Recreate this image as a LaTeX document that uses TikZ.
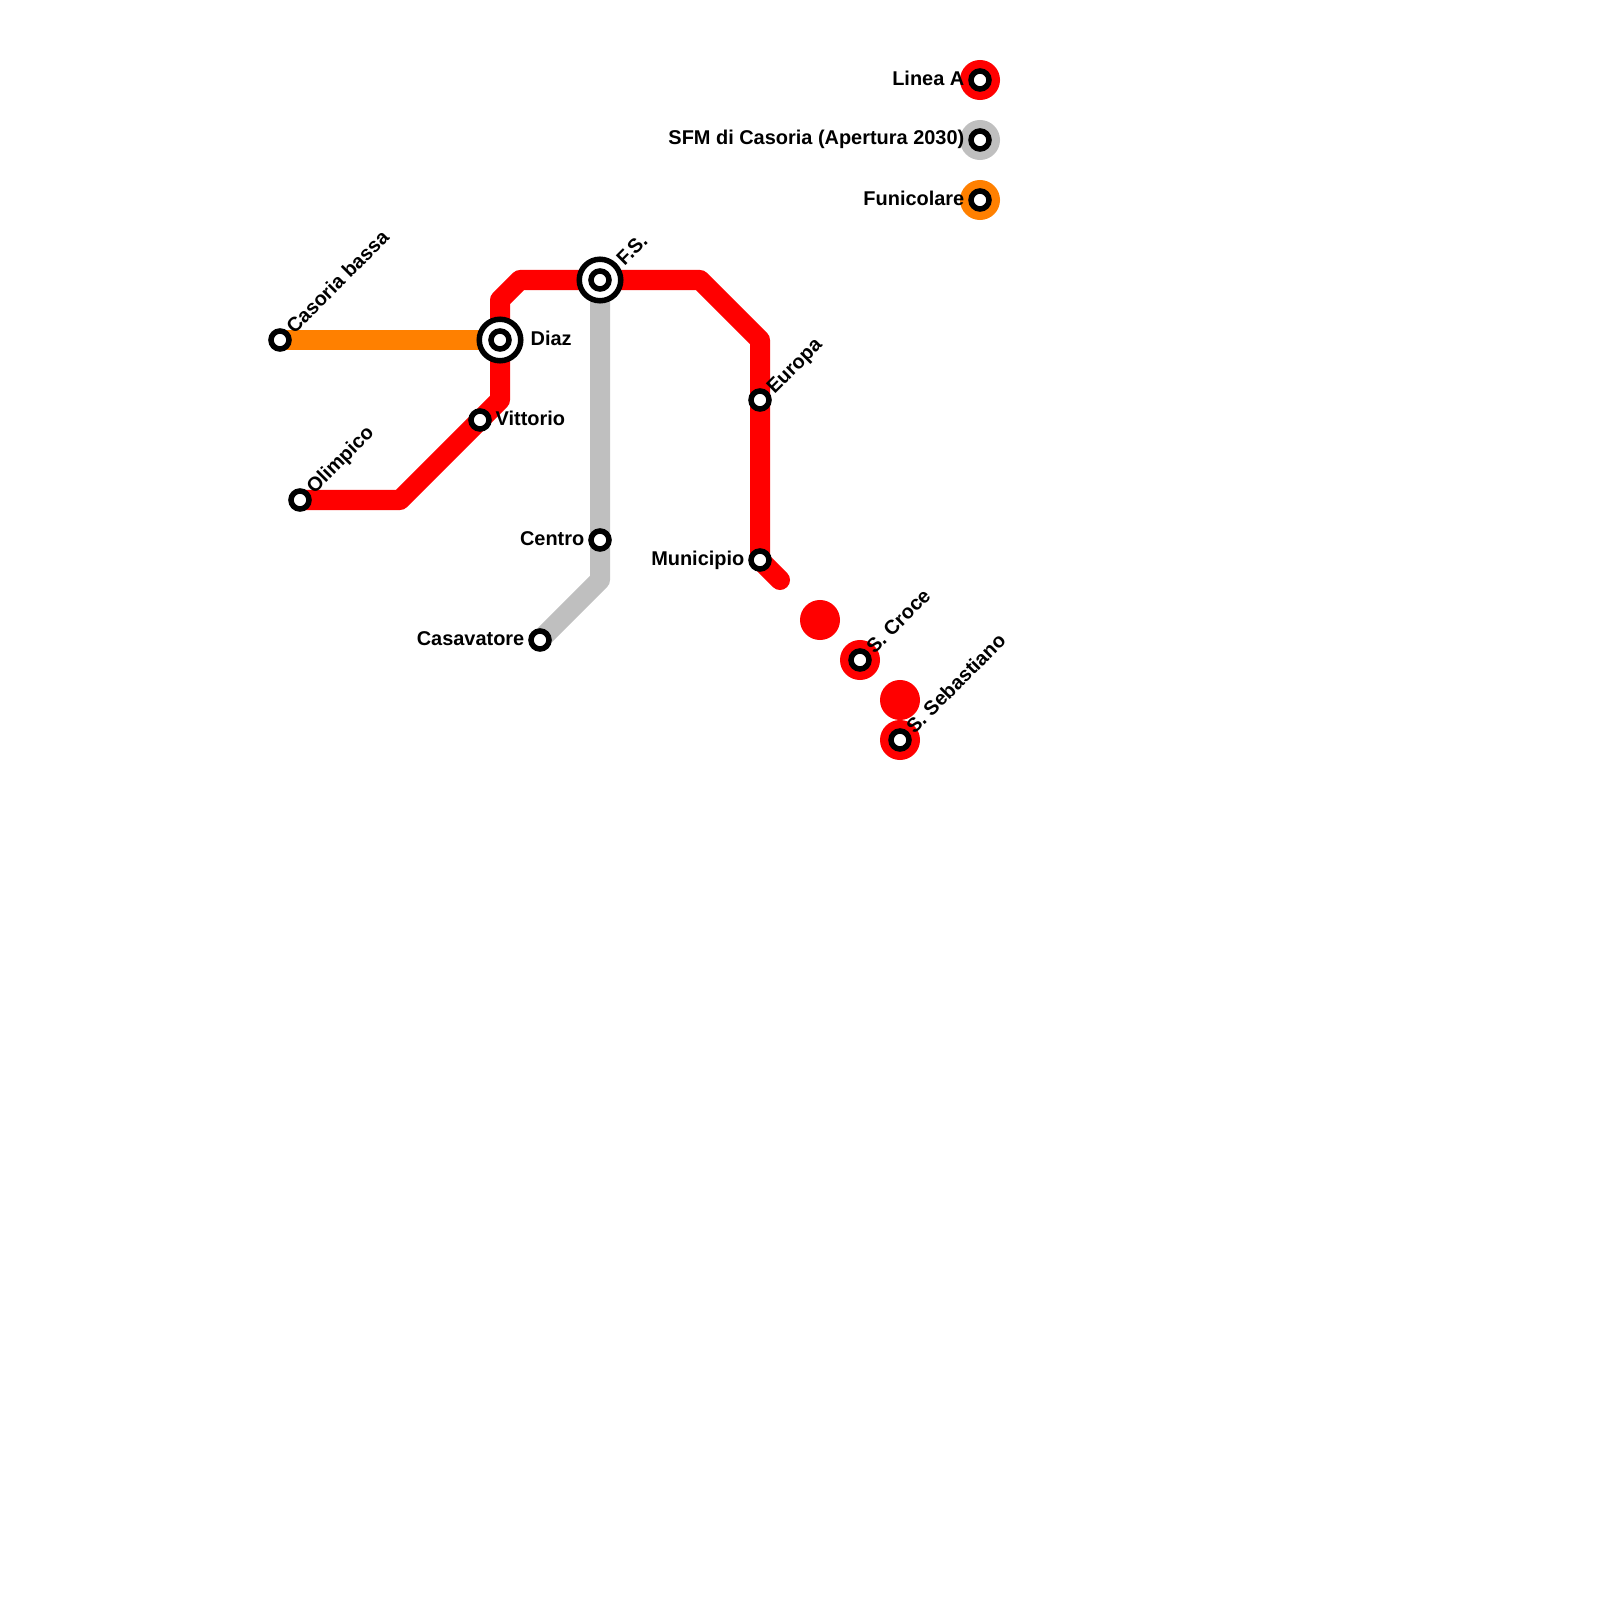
\documentclass[tikz,border=0pt]{standalone}
\usepackage{fontspec}
\setmainfont{Liberation Sans}
\usetikzlibrary{positioning,backgrounds}
\definecolor{lineared}{HTML}{FF0000}
\definecolor{linegrey}{HTML}{BFBFBF}
\definecolor{lineorange}{HTML}{FF8000}

\begin{document}
\begin{tikzpicture}[
  x=0.01cm, y=-0.01cm,
  stn/.style={draw=black, line width=0.055cm, circle, fill=white, inner sep=0pt, minimum size=0.18cm},
  hub/.style={draw=black, line width=0.055cm, circle, fill=white, inner sep=0pt, minimum size=0.415cm},
  disc/.style={circle, inner sep=0pt, minimum size=0.4cm},
  lbl/.style={font=\bfseries\fontsize{5.67pt}{7pt}\selectfont, inner sep=0pt},
  lblup/.style={lbl, rotate=45, anchor=base west},
  lblleft/.style={lbl, anchor=base east},
  lblright/.style={lbl, anchor=base west},
  track/.style={line width=0.2cm, line join=round, line cap=round}]
  \useasboundingbox (0,0) rectangle (1600,1600);
  \node[disc, fill=lineared] (d1) at (820,620) {};
  \node[disc, fill=lineared] (d2) at (860,660) {};
  \node[disc, fill=lineared] (d3) at (900,700) {};
  \node[disc, fill=lineared] (d4) at (900,740) {};
  \node[disc, fill=lineared] (legA) at (980,80) {};
  \node[disc, fill=linegrey] (legS) at (980,140) {};
  \node[disc, fill=lineorange] (legF) at (980,200) {};
  \node[hub] (fs0) at (600,280) {};
  \node[hub] (diaz0) at (500,340) {};
  \node[stn] (fs) at (600,280) {};
  \node[stn] (diaz) at (500,340) {};
  \node[stn] (casoria) at (280,340) {};
  \node[stn] (vittorio) at (480,420) {};
  \node[stn] (olimpico) at (300,500) {};
  \node[stn] (centro) at (600,540) {};
  \node[stn] (casavatore) at (540,640) {};
  \node[stn] (europa) at (760,400) {};
  \node[stn] (municipio) at (760,560) {};
  \node[stn] (croce) at (860,660) {};
  \node[stn] (sebastiano) at (900,740) {};
  \node[stn] (stnA) at (980,80) {};
  \node[stn] (stnS) at (980,140) {};
  \node[stn] (stnF) at (980,200) {};
  \coordinate (endA) at (780,580);
  \node[lblup] (lblcasoria) at (294,335) {Casoria bassa};
  \node[lblup] (lblolimpico) at (314,495) {Olimpico};
  \node[lblup] (lblfs) at (624,267) {F.S.};
  \node[lblup] (lbleuropa) at (774,395) {Europa};
  \node[lblup] (lblcroce) at (874,655) {S. Croce};
  \node[lblup] (lblsebastiano) at (914,735) {S. Sebastiano};
  \node[lblright] (lbldiaz) at (530,345.3) {Diaz};
  \node[lblright] (lblvittorio) at (495,425.3) {Vittorio};
  \node[lblleft] (lblcentro) at (585,545) {Centro};
  \node[lblleft] (lblcasavatore) at (525,645) {Casavatore};
  \node[lblleft] (lblmunicipio) at (745,565) {Municipio};
  \node[lblleft] (lbllegA) at (965,85.3) {Linea A};
  \node[lblleft] (lbllegS) at (965,145) {SFM di Casoria (Apertura 2030)};
  \node[lblleft] (lbllegF) at (965,205.3) {Funicolare};
  \begin{pgfonlayer}{background}
    \draw[track, linegrey] (fs.center) -- (600,580) -- (casavatore.center);
    \draw[track, lineared] (olimpico.center) -- (400,500) -- (500,400) -- (diaz.center) -- (500,300) -- (520,280) -- (fs.center) -- (700,280) -- (760,340) -- (europa.center) -- (municipio.center) -- (endA);
    \draw[track, lineorange, line cap=butt] (casoria.center) -- (diaz.center);
  \end{pgfonlayer}
\end{tikzpicture}
\end{document}
